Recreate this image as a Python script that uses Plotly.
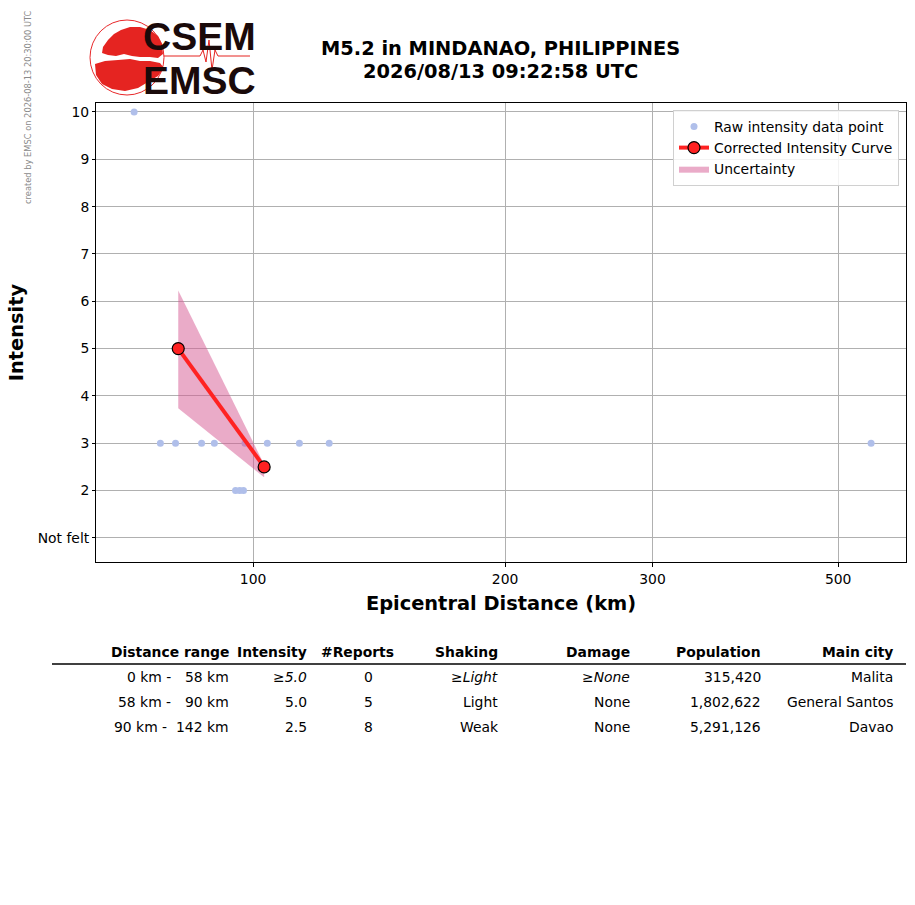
import plotly.graph_objects as go

# ---------------- data ----------------
raw_dist = [72.1, 77.5, 80.8, 86.8, 89.9, 97.8, 104.0, 113.6, 123.3, 547.4, 95.3, 96.4, 97.4]
raw_int = [10, 3, 3, 3, 3, 3, 3, 3, 3, 3, 2, 2, 2]

curve_dist = [81.4, 103.1]
curve_int = [5.0, 2.5]
band_upper = [6.23, 2.55]
band_lower = [3.74, 2.28]

y_tickvals = [1, 2, 3, 4, 5, 6, 7, 8, 9, 10]
y_ticktext = ["Not felt", "2", "3", "4", "5", "6", "7", "8", "9", "10"]
x_tickvals = [100, 200, 300, 500]

table_header = ["Distance range", "Intensity", "#Reports", "Shaking", "Damage", "Population", "Main city"]
dist_from = ["0 km -", "58 km -", "90 km -"]
dist_to = ["58 km", "90 km", "142 km"]
intensity_col = ["≥<i>5.0</i>", "5.0", "2.5"]
reports_col = ["0", "5", "8"]
shaking_col = ["≥<i>Light</i>", "Light", "Weak"]
damage_col = ["≥<i>None</i>", "None", "None"]
population_col = ["315,420", "1,802,622", "5,291,126"]
city_col = ["Malita", "General Santos", "Davao"]

title_lines = ["M5.2 in MINDANAO, PHILIPPINES", "2026/08/13 09:22:58 UTC"]
created_by = "created by EMSC on 2026-08-13 20:30:00 UTC"

W, H = 915, 905
FONT = "DejaVu Sans"


def px(x):
    return x / W


def py(y):
    return 1 - y / H


fig = go.Figure()

fig.add_trace(go.Scatter(
    x=raw_dist, y=raw_int, mode="markers", name="Raw intensity data point",
    marker=dict(color="rgb(176,191,234)", size=7, line=dict(width=0)),
    legendrank=1,
))

fig.add_trace(go.Scatter(
    x=curve_dist + curve_dist[::-1], y=band_upper + band_lower[::-1],
    mode="lines", fill="toself", fillcolor="rgba(214,88,145,0.5)",
    line=dict(width=0), name="Uncertainty", showlegend=True,
    legendrank=3,
))

fig.add_trace(go.Scatter(
    x=curve_dist, y=curve_int, mode="lines+markers", name="Corrected Intensity Curve",
    line=dict(color="#ff2222", width=4),
    marker=dict(color="#ff2222", size=12, line=dict(color="black", width=1.2)),
    legendrank=2,
))

x0p, x1p = 96, 906
y0p, y1p = 103, 562

fig.update_layout(
    width=W, height=H,
    margin=dict(l=0, r=0, t=0, b=0),
    paper_bgcolor="white", plot_bgcolor="white",
    font=dict(family=FONT, size=13.9, color="black"),
    showlegend=True,
    legend=dict(
        x=px(899), y=py(110), xanchor="right", yanchor="top",
        bgcolor="rgba(255,255,255,0.85)", bordercolor="#d0d0d0", borderwidth=1,
        font=dict(size=13.9), traceorder="normal",
        itemwidth=30, tracegroupgap=0,
    ),
    xaxis=dict(
        type="log", range=[1.8124, 2.780], domain=[px(x0p), px(x1p)],
        tickvals=x_tickvals, ticktext=[str(v) for v in x_tickvals],
        showgrid=True, gridcolor="#b0b0b0", gridwidth=1,
        showline=True, linecolor="black", linewidth=1, mirror=True,
        ticks="outside", ticklen=4, tickcolor="black", zeroline=False,
        title=dict(text="<b>Epicentral Distance (km)</b>", font=dict(size=19.4), standoff=10),
    ),
    yaxis=dict(
        range=[0.49, 10.19], domain=[py(y1p), py(y0p)],
        tickvals=y_tickvals, ticktext=y_ticktext,
        showgrid=True, gridcolor="#b0b0b0", gridwidth=1,
        showline=True, linecolor="black", linewidth=1, mirror=True,
        ticks="outside", ticklen=3, tickcolor="black", zeroline=False,
        title=dict(text="<b>Intensity</b>", font=dict(size=19.4), standoff=8),
    ),
)

ann = []
# title
ann.append(dict(x=px(501), y=py(49), text="<b>" + title_lines[0] + "</b>", showarrow=False,
                xref="paper", yref="paper", xanchor="center", yanchor="middle",
                font=dict(size=19.4)))
ann.append(dict(x=px(501), y=py(72), text="<b>" + title_lines[1] + "</b>", showarrow=False,
                xref="paper", yref="paper", xanchor="center", yanchor="middle",
                font=dict(size=19.4)))
# created by
ann.append(dict(x=px(28), y=py(107), text=created_by, showarrow=False, textangle=-90,
                xref="paper", yref="paper", xanchor="center", yanchor="middle",
                font=dict(size=8.3, color="#8a8a8a")))

# logo text
ann.append(dict(x=px(199), y=py(36), text="<b>CSEM</b>", showarrow=False,
                xref="paper", yref="paper", xanchor="center", yanchor="middle",
                font=dict(size=39, color="#1a0a0a", family="Liberation Sans")))
ann.append(dict(x=px(199), y=py(80), text="<b>EMSC</b>", showarrow=False,
                xref="paper", yref="paper", xanchor="center", yanchor="middle",
                font=dict(size=39, color="#1a0a0a", family="Liberation Sans")))

# table
hdr_right = [231, 309, 396, 500, 632, 763, 895]
for t, xr in zip(table_header, hdr_right):
    ann.append(dict(x=px(xr), y=py(652), text="<b>" + t + "</b>", showarrow=False,
                    xref="paper", yref="paper", xanchor="right", yanchor="middle",
                    font=dict(size=13.9)))
row_y = [677, 702, 727]
from_right = [173, 173, 169]
for i, yy in enumerate(row_y):
    cells = [
        (dist_from[i], from_right[i], "right"),
        (dist_to[i], 231, "right"),
        (intensity_col[i], 309, "right"),
        (reports_col[i], 368, "center"),
        (shaking_col[i], 500, "right"),
        (damage_col[i], 632, "right"),
        (population_col[i], 763, "right"),
        (city_col[i], 895, "right"),
    ]
    for txt, xx, anc in cells:
        ann.append(dict(x=px(xx), y=py(yy), text=txt, showarrow=False,
                        xref="paper", yref="paper", xanchor=anc, yanchor="middle",
                        font=dict(size=13.9)))

fig.update_layout(annotations=ann)

shapes = []
# table rule
shapes.append(dict(type="line", xref="paper", yref="paper", x0=px(52), x1=px(906),
                   y0=py(664), y1=py(664), line=dict(color="black", width=1.5)))
# logo circle
shapes.append(dict(type="circle", xref="paper", yref="paper",
                   x0=px(90), x1=px(164), y0=py(95), y1=py(20),
                   line=dict(color="#e8282a", width=1), fillcolor="rgba(0,0,0,0)", layer="below"))


def path_px(points):
    return "M " + " L ".join(f"{px(a):.5f},{py(b):.5f}" for a, b in points) + " Z"


europe = [(103, 47), (108, 40), (114, 34), (121, 30), (130, 27), (140, 27), (150, 30), (158, 36),
          (162, 44), (163, 54), (158, 58), (150, 57), (140, 57), (132, 56), (124, 54), (116, 56),
          (108, 55), (102, 53)]
africa = [(95, 64), (105, 61), (118, 60), (130, 59), (140, 61), (150, 61), (160, 63), (164, 68),
          (158, 76), (148, 82), (138, 88), (125, 91), (112, 89), (102, 84), (96, 75)]
for poly in (europe, africa):
    shapes.append(dict(type="path", xref="paper", yref="paper", path=path_px(poly),
                       fillcolor="#e52421", line=dict(width=0), layer="below"))

seis = [(164, 56), (200, 56), (203, 50), (206, 62), (209, 40), (212, 70), (215, 50), (218, 56), (250, 56)]
seis_path = "M " + " L ".join(f"{px(a):.5f},{py(b):.5f}" for a, b in seis)
shapes.append(dict(type="path", xref="paper", yref="paper", path=seis_path,
                   line=dict(color="#e52421", width=1), layer="below"))

fig.update_layout(shapes=shapes)

fig.write_html("out.html", post_script="document.body.style.margin='0';",
               config={"displayModeBar": False})
